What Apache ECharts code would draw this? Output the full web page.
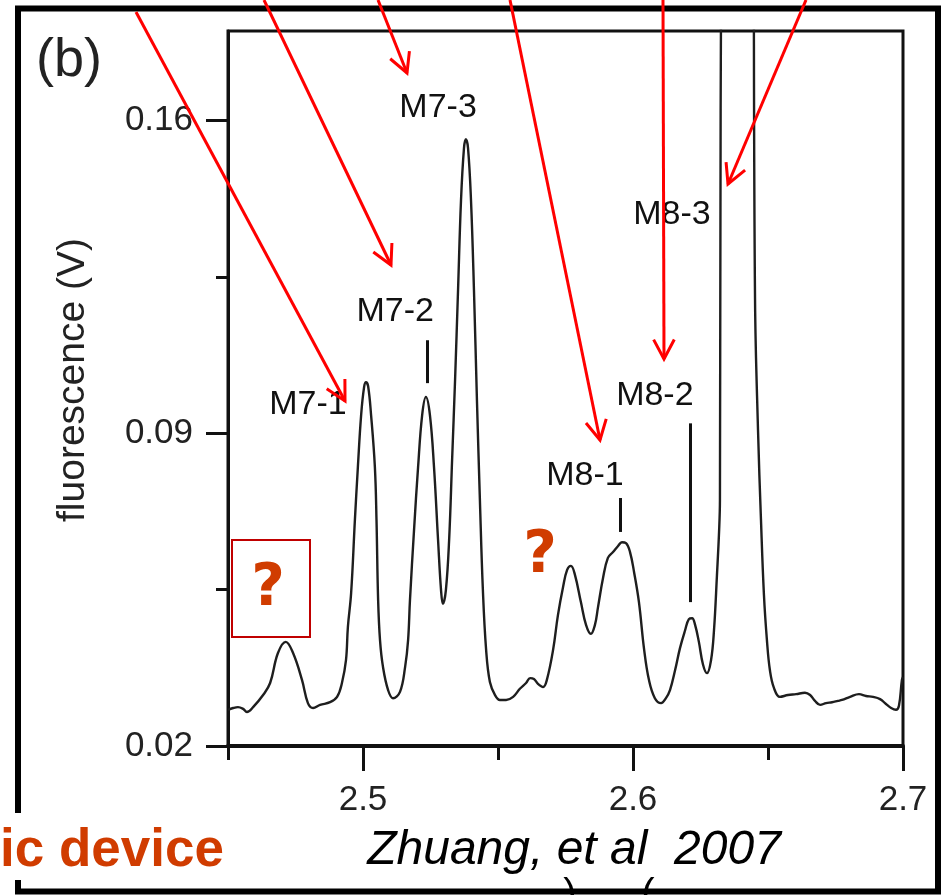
<!DOCTYPE html>
<html>
<head>
<meta charset="utf-8">
<script src="https://cdn.jsdelivr.net/npm/echarts@6/dist/echarts.min.js"></script>
<style>
  html, body { margin: 0; padding: 0; background: #fff; }
  #chart { width: 941px; height: 895px; }
</style>
</head>
<body>
<div id="chart"></div>
<script>
// ---- data ----
const retentionTime = [
  2.4500, 2.4519, 2.4537, 2.4556, 2.4570, 2.4593, 2.4630, 2.4656, 2.4685, 2.4714,
  2.4741, 2.4774, 2.4796, 2.4815, 2.4841, 2.4878, 2.4904, 2.4922, 2.4937, 2.4944,
  2.4956, 2.4970, 2.4981, 2.4993, 2.5004, 2.5011, 2.5019, 2.5030, 2.5044, 2.5050,
  2.5056, 2.5063, 2.5074, 2.5093, 2.5111, 2.5137, 2.5156, 2.5167, 2.5174, 2.5189,
  2.5204, 2.5219, 2.5233, 2.5248, 2.5263, 2.5278, 2.5289, 2.5296, 2.5307, 2.5319,
  2.5330, 2.5341, 2.5352, 2.5363, 2.5374, 2.5381, 2.5389, 2.5400, 2.5411, 2.5422,
  2.5433, 2.5444, 2.5456, 2.5470, 2.5489, 2.5507, 2.5530, 2.5556, 2.5581, 2.5604,
  2.5619, 2.5633, 2.5648, 2.5667, 2.5681, 2.5704, 2.5722, 2.5741, 2.5756, 2.5770,
  2.5785, 2.5807, 2.5826, 2.5844, 2.5859, 2.5870, 2.5889, 2.5907, 2.5926, 2.5944,
  2.5959, 2.5974, 2.5989, 2.6004, 2.6022, 2.6041, 2.6059, 2.6081, 2.6104, 2.6122,
  2.6137, 2.6156, 2.6174, 2.6193, 2.6207, 2.6219, 2.6230, 2.6244, 2.6259, 2.6274,
  2.6289, 2.6300, 2.6311, 2.6319, 2.6322, 2.6330, 2.6385, 2.6440, 2.6452, 2.6463,
  2.6474, 2.6485, 2.6496, 2.6507, 2.6522, 2.6544, 2.6574, 2.6604, 2.6637, 2.6656,
  2.6674, 2.6693, 2.6715, 2.6737, 2.6759, 2.6774, 2.6804, 2.6837, 2.6863, 2.6889,
  2.6915, 2.6937, 2.6956, 2.6974, 2.6985, 2.6996, 2.7000
];
const fluorescence = [
  0.0281, 0.0285, 0.0287, 0.0283, 0.0276, 0.0287, 0.0314, 0.0341, 0.0408, 0.0433,
  0.0408, 0.0348, 0.0296, 0.0285, 0.0292, 0.0298, 0.0310, 0.0341, 0.0392, 0.0466,
  0.0542, 0.0706, 0.0824, 0.0940, 0.1003, 0.1014, 0.1005, 0.0940, 0.0824, 0.0706,
  0.0527, 0.0437, 0.0377, 0.0325, 0.0307, 0.0321, 0.0377, 0.0437, 0.0527, 0.0683,
  0.0824, 0.0940, 0.0981, 0.0940, 0.0824, 0.0661, 0.0549, 0.0518, 0.0549, 0.0661,
  0.0840, 0.1019, 0.1220, 0.1421, 0.1538, 0.1558, 0.1538, 0.1421, 0.1220, 0.0974,
  0.0750, 0.0549, 0.0415, 0.0343, 0.0314, 0.0303, 0.0303, 0.0310, 0.0328, 0.0341,
  0.0352, 0.0350, 0.0339, 0.0332, 0.0348, 0.0415, 0.0493, 0.0556, 0.0594, 0.0603,
  0.0583, 0.0522, 0.0471, 0.0451, 0.0471, 0.0509, 0.0576, 0.0621, 0.0634, 0.0647,
  0.0656, 0.0654, 0.0634, 0.0589, 0.0522, 0.0417, 0.0348, 0.0307, 0.0296, 0.0307,
  0.0325, 0.0370, 0.0419, 0.0459, 0.0484, 0.0486, 0.0471, 0.0433, 0.0383, 0.0363,
  0.0392, 0.0459, 0.0583, 0.0683, 0.0750, 0.2500, 0.3000, 0.2500, 0.1198, 0.0907,
  0.0706, 0.0538, 0.0437, 0.0370, 0.0330, 0.0310, 0.0314, 0.0316, 0.0319, 0.0314,
  0.0301, 0.0292, 0.0296, 0.0298, 0.0301, 0.0303, 0.0310, 0.0316, 0.0312, 0.0310,
  0.0305, 0.0294, 0.0285, 0.0281, 0.0290, 0.0348, 0.0354
];

const xMinorTicks = [2.45, 2.5, 2.55, 2.6, 2.65, 2.7];
const xMajorTicks = [2.5, 2.6, 2.7];
const yMajorTicks = [0.02, 0.09, 0.16];
const yMinorTicks = [0.055, 0.125];

// peak annotations (data coordinates)
const peakNames  = ['M7-1', 'M7-2', 'M7-3', 'M8-1', 'M8-2', 'M8-3'];
const peakNameX  = [2.4796, 2.5119, 2.5278, 2.5822, 2.6081, 2.6144];
const peakNameY  = [0.0965, 0.1171, 0.1629, 0.0804, 0.0983, 0.1390];
// leader ticks under some labels: x, yTop, yBottom
const leaderX    = [2.5237, 2.5952, 2.6211];
const leaderTop  = [0.1108, 0.0755, 0.0922];
const leaderBot  = [0.1012, 0.0679, 0.0522];

const AX = '#111';
const FONT = '"Liberation Sans", Arial, sans-serif';
const RED = '#ff0000';
const ORANGE = '#d03c00';

const chart = echarts.init(document.getElementById('chart'), null, { renderer: 'canvas' });

function arrow(x1, y1, x2, y2) {
  const ang = Math.atan2(y2 - y1, x2 - x1);
  const L = 22, a = 28 * Math.PI / 180;
  const p1 = [x2 - L * Math.cos(ang - a), y2 - L * Math.sin(ang - a)];
  const p2 = [x2 - L * Math.cos(ang + a), y2 - L * Math.sin(ang + a)];
  return [
    { type: 'line', z: 100, shape: { x1, y1, x2, y2 }, style: { stroke: RED, lineWidth: 3 } },
    { type: 'polyline', z: 100, shape: { points: [p1, [x2, y2], p2] }, style: { stroke: RED, lineWidth: 3, fill: null, lineJoin: 'miter' } }
  ];
}

const arrows = [
  [136, 12, 345, 401],
  [264, 0, 391, 265],
  [378, 0, 407, 73],
  [510, 0, 600, 440],
  [663, 0, 664, 359],
  [806, 0, 728, 184]
];

const graphics = [
  // slide text fragments near the bottom edge
  { type: 'text', z: 1, style: { x: 570, y: 876, text: ')', font: '40px ' + FONT, fill: '#000', align: 'center', verticalAlign: 'top' } },
  { type: 'text', z: 1, style: { x: 648, y: 876, text: '(', font: '40px ' + FONT, fill: '#000', align: 'center', verticalAlign: 'top' } },
  // outer slide frame
  { type: 'rect', z: 5, shape: { x: 18, y: 8.5, width: 920, height: 883 }, style: { stroke: '#000', lineWidth: 6, fill: null } },
  // white patch behind the left caption
  { type: 'rect', z: 6, shape: { x: 0, y: 813, width: 240, height: 67 }, style: { fill: '#fff' } },
  { type: 'text', z: 7, style: { x: 0, y: 851, text: 'ic device', font: 'bold 53px ' + FONT, fill: ORANGE, align: 'left', verticalAlign: 'middle' } },
  { type: 'text', z: 7, style: { x: 574, y: 851, text: 'Zhuang, et al  2007', font: 'italic 48px ' + FONT, fill: '#000', align: 'center', verticalAlign: 'middle' } },
  // panel label
  { type: 'text', z: 7, style: { x: 36, y: 61, text: '(b)', font: '54px ' + FONT, fill: '#222', align: 'left', verticalAlign: 'middle' } },
  // y axis title
  { type: 'text', z: 7, x: 73, y: 380, rotation: Math.PI / 2, style: { x: 0, y: 0, text: 'fluorescence (V)', font: '39px ' + FONT, fill: '#222', align: 'center', verticalAlign: 'middle' } },
  // red box and question marks
  { type: 'rect', z: 8, shape: { x: 232, y: 540, width: 78, height: 97 }, style: { stroke: '#c00000', lineWidth: 2, fill: null } },
  { type: 'text', z: 8, style: { x: 268, y: 590, text: '?', font: 'bold 58px "DejaVu Sans", sans-serif', fill: ORANGE, align: 'center', verticalAlign: 'middle' } },
  { type: 'text', z: 8, style: { x: 540, y: 557, text: '?', font: 'bold 58px "DejaVu Sans", sans-serif', fill: ORANGE, align: 'center', verticalAlign: 'middle' } }
];
arrows.forEach(a => graphics.push(...arrow(a[0], a[1], a[2], a[3])));

const lineData = retentionTime.map((t, i) => [t, fluorescence[i]]);

const option = {
  animation: false,
  backgroundColor: '#fff',
  grid: {
    left: 228, right: 38, top: 31, bottom: 149,
    show: true, borderColor: AX, borderWidth: 3, backgroundColor: 'transparent'
  },
  xAxis: [
    {
      type: 'value', min: 2.45, max: 2.7, position: 'bottom',
      axisLine: { show: true, lineStyle: { color: AX, width: 4 } },
      axisTick: { show: true, customValues: xMinorTicks, length: 14, lineStyle: { color: AX, width: 3 } },
      axisLabel: { show: false },
      splitLine: { show: false }
    },
    {
      type: 'value', min: 2.45, max: 2.7, position: 'bottom',
      axisLine: { show: false },
      axisTick: { show: true, customValues: xMajorTicks, length: 25, lineStyle: { color: AX, width: 3 } },
      axisLabel: {
        show: true, customValues: xMajorTicks, margin: 37,
        fontSize: 35, fontFamily: FONT, color: '#222',
        formatter: v => v.toFixed(1)
      },
      splitLine: { show: false }
    }
  ],
  yAxis: [
    {
      type: 'value', min: 0.02, max: 0.18, position: 'left',
      axisLine: { show: true, lineStyle: { color: AX, width: 3 } },
      axisTick: { show: true, customValues: yMinorTicks, length: 12, lineStyle: { color: AX, width: 3 } },
      axisLabel: { show: false },
      splitLine: { show: false }
    },
    {
      type: 'value', min: 0.02, max: 0.18, position: 'left',
      axisLine: { show: false },
      axisTick: { show: true, customValues: yMajorTicks, length: 22, lineStyle: { color: AX, width: 3 } },
      axisLabel: {
        show: true, customValues: yMajorTicks, margin: 35,
        fontSize: 35, fontFamily: FONT, color: '#222',
        formatter: v => v.toFixed(2)
      },
      splitLine: { show: false }
    }
  ],
  series: [
    {
      type: 'line',
      xAxisIndex: 0, yAxisIndex: 0,
      data: lineData,
      showSymbol: false,
      smooth: 0.4,
      clip: true,
      lineStyle: { color: '#1e1e1e', width: 2.4 },
      markLine: {
        silent: true,
        symbol: ['none', 'none'],
        label: { show: false },
        lineStyle: { color: AX, width: 3, type: 'solid' },
        data: leaderX.map((x, i) => [{ coord: [x, leaderTop[i]] }, { coord: [x, leaderBot[i]] }])
      },
      markPoint: {
        silent: true,
        symbol: 'circle',
        symbolSize: 0,
        label: {
          show: true, position: 'inside', color: '#111',
          fontSize: 34, fontFamily: FONT,
          formatter: p => p.name
        },
        data: peakNames.map((n, i) => ({ name: n, coord: [peakNameX[i], peakNameY[i]] }))
      }
    }
  ],
  graphic: graphics
};

chart.setOption(option);
</script>
</body>
</html>
